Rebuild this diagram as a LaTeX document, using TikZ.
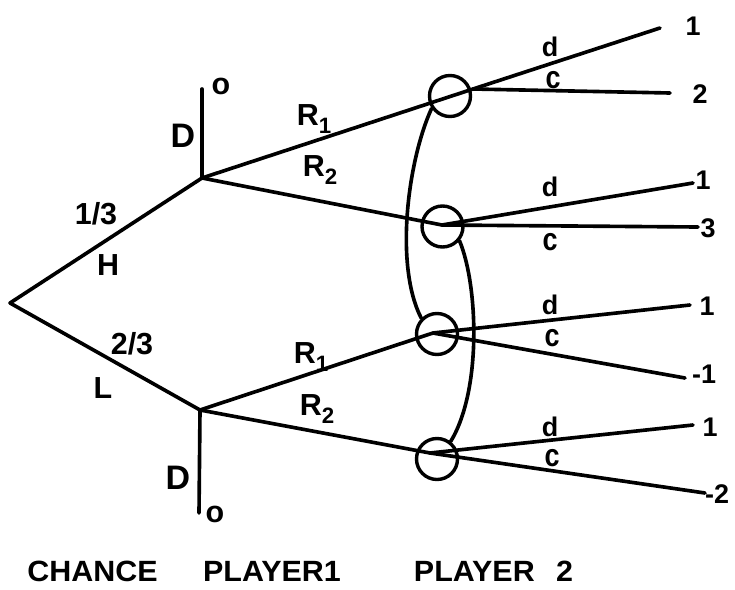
\documentclass[tikz,border=0pt]{standalone}
\usepackage{fontspec}
\setmainfont{Liberation Sans}
\usepackage{graphicx}
\newcommand{\rsub}[1]{R\raisebox{-7pt}{\fontsize{19}{19}\selectfont #1}}
\newcommand{\tallc}{\scalebox{1}[1.18]{c}}
\begin{document}
\begin{tikzpicture}[x=0.03cm,y=-0.03cm, line width=3.1pt, line cap=round, line join=round,
  lbl/.style={font=\fontsize{26}{28}\selectfont\bfseries, inner sep=0pt},
  big/.style={font=\fontsize{29}{31}\selectfont\bfseries, inner sep=0pt},
  pay/.style={font=\fontsize{23}{26}\selectfont\bfseries, inner sep=0pt},
  bot/.style={font=\fontsize{25}{28}\selectfont\bfseries, inner sep=0pt},
  infoset/.style={draw, circle, minimum size=1.23cm, inner sep=0pt, line width=2.9pt}]
\useasboundingbox (0,0) rectangle (735,589);
% decision points
\coordinate (root) at (10,303);
\coordinate (pu) at (202,178);
\coordinate (pl) at (200,410);
\coordinate (du) at (202,89);
\coordinate (dl) at (199,513);
% player 2 information set
\node[infoset] (C1) at (450,96) {};
\node[infoset] (C2) at (442.5,226.5) {};
\node[infoset] (C3) at (437,334) {};
\node[infoset] (C4) at (437,459) {};
\coordinate (m1) at (473,89);
\coordinate (m2) at (442,225);
\coordinate (m3) at (433,333);
\coordinate (m4) at (430,453);
% terminal ends
\coordinate (e1d) at (660,28);
\coordinate (e1c) at (670,93);
\coordinate (e2d) at (693,183);
\coordinate (e2c) at (698,227);
\coordinate (e3d) at (690,305);
\coordinate (e3c) at (685,378);
\coordinate (e4d) at (693,425);
\coordinate (e4c) at (705,493);
% edges
\draw (pu) -- (root) -- (pl);
\draw (pu) -- (du);
\draw (pl) -- (dl);
\draw (pu) -- (m1);
\draw (pu) -- (m2);
\draw (pl) -- (m3);
\draw (pl) -- (m4);
\draw (m1) -- (e1d);
\draw (m1) -- (e1c);
\draw (m2) -- (e2d);
\draw (m2) -- (e2c);
\draw (m3) -- (e3d);
\draw (m3) -- (e3c);
\draw (m4) -- (e4d);
\draw (m4) -- (e4c);
% information set arcs
\draw (C1.214) .. controls (408,160) and (394,265) .. (C3.135);
\draw (C2.320) .. controls (478,285) and (482,390) .. (C4.52);
% labels
\node[lbl] (p13) at (96,214) {1/3};
\node[lbl] (lH) at (108,265) {H};
\node[lbl] (p23) at (132,344) {2/3};
\node[lbl] (lL) at (103,388) {L};
\node[big] (Du) at (183,136) {D};
\node[big] (Dl) at (178,478) {D};
\node[lbl] (ou) at (221,86) {o};
\node[lbl] (ol) at (215,514) {o};
\node[lbl] (r1u) at (314,119) {\rsub{1}};
\node[lbl] (r2u) at (320,170) {\rsub{2}};
\node[lbl] (r1l) at (311,357) {\rsub{1}};
\node[lbl] (r2l) at (317,409) {\rsub{2}};
\node[pay] (d1) at (550,47) {d};
\node[pay] (c1) at (553,80) {\tallc};
\node[pay] (d2) at (550,187) {d};
\node[pay] (c2) at (550,242) {\tallc};
\node[pay] (d3) at (550,305) {d};
\node[pay] (c3) at (552,338) {\tallc};
\node[pay] (d4) at (550,427) {d};
\node[pay] (c4) at (552,458) {\tallc};
% payoffs
\node[pay] (v1) at (693,26) {1};
\node[pay] (v2) at (700,94) {2};
\node[pay] (v3) at (703,180) {1};
\node[pay] (v4) at (708,228) {3};
\node[pay] (v5) at (707,306) {1};
\node[pay] (v6) at (704,374) {-1};
\node[pay] (v7) at (710,427) {1};
\node[pay] (v8) at (717,494) {-2};
% player row
\node[bot] (t1) at (92.5,571) {\scalebox{1.04}[1]{CHANCE}};
\node[bot] (t2) at (272,571) {\scalebox{1.04}[1]{PLAYER1}};
\node[bot] (t3) at (493.5,571) {\scalebox{1.04}[1]{PLAYER\hspace{0.7em}2}};
\end{tikzpicture}
\end{document}
